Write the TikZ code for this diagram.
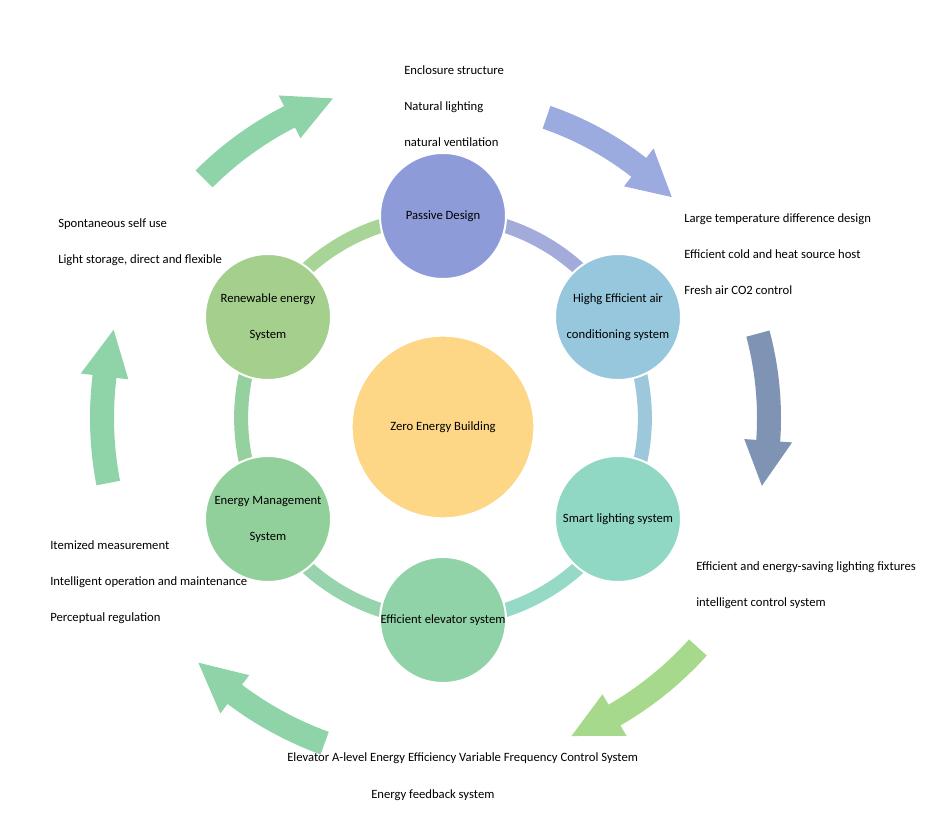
\documentclass[tikz,border=0pt]{standalone}
\usepackage{fontspec}
\setmainfont{Carlito}
\usetikzlibrary{backgrounds}

% colour, start angle, end angle, radius
\newcommand{\bendarrow}[4]{%
  \pgfmathsetmacro{\hb}{#3+8}
  \pgfmathsetmacro{\ri}{#4-12}
  \pgfmathsetmacro{\ro}{#4+12}
  \pgfmathsetmacro{\hi}{#4-24}
  \pgfmathsetmacro{\ho}{#4+24}
  \fill[#1] (#2:\ri) arc[start angle=#2, end angle=\hb, radius=\ri]
    -- (\hb:\hi) -- (#3:#4) -- (\hb:\ho) -- (\hb:\ro)
    arc[start angle=\hb, end angle=#2, radius=\ro] -- cycle;}

\begin{document}
\begin{tikzpicture}[x=0.75pt,y=0.75pt,
  part/.style={circle,minimum size=94.5pt,inner sep=0pt,draw=white,line width=1.5pt,
    align=center,font=\fontsize{9.5}{27}\selectfont},
  note/.style={anchor=base west,align=left,inner sep=0pt,font=\fontsize{9.5}{27}\selectfont},
  ring/.style={line width=10.5pt,looseness=0.91}]
\definecolor{passive}{HTML}{8E9BD9}
\definecolor{hvac}{HTML}{97C7DC}
\definecolor{lighting}{HTML}{90D7C4}
\definecolor{elevator}{HTML}{91D3A8}
\definecolor{manage}{HTML}{91D09A}
\definecolor{renew}{HTML}{A4CF8D}
\definecolor{zeb}{HTML}{FDD686}
\definecolor{ringa}{HTML}{A3ABDA}
\definecolor{ringb}{HTML}{9DC7DA}
\definecolor{ringc}{HTML}{95D9C6}
\definecolor{ringd}{HTML}{97D4AE}
\definecolor{ringe}{HTML}{94D19F}
\definecolor{ringf}{HTML}{A9D498}
\definecolor{arrowa}{HTML}{8FD4A9}
\definecolor{arrowb}{HTML}{9BAADF}
\definecolor{arrowc}{HTML}{7F93B5}
\definecolor{arrowd}{HTML}{A6D98C}
\definecolor{arrowe}{HTML}{8FD4A8}
\useasboundingbox (0,0) rectangle (943,825);

% outer arrows
\begin{scope}[shift={(443,407)}]
  \foreach \crlr/\abeg/\aend/\rad in {arrowa/135/109/338,arrowb/71/44/318,arrowc/15/-12/326,
      arrowd/-42/-68/343,arrowe/-110/-135/346,arrowe/191/165/341}
  {\bendarrow{\crlr}{\abeg}{\aend}{\rad}}
\end{scope}

% parts
\node[part,fill=passive] (pd) at (443,609) {Passive Design};
\node[part,fill=hvac] (hv) at (618,508) {Highg Efficient air\\conditioning system};
\node[part,fill=lighting] (sl) at (618,306) {Smart lighting system};
\node[part,fill=elevator] (ev) at (443,205) {Efficient elevator system};
\node[part,fill=manage] (em) at (268,306) {Energy Management\\System};
\node[part,fill=renew] (re) at (268,508) {Renewable energy\\System};
\node[part,fill=zeb,minimum size=137pt] (zeb) at (443,398) {Zero Energy Building};

\begin{pgfonlayer}{background}
  \foreach \a/\b/\crlr in {pd/hv/ringa,hv/sl/ringb,sl/ev/ringc,ev/em/ringd,em/re/ringe,re/pd/ringf}
  {\draw[ring,\crlr] (\a.center) to[bend left=30] (\b.center);}
\end{pgfonlayer}

% notes (anchored at the last line)
\node[note] (pdnote) at (404,678) {Enclosure structure\\Natural lighting\\natural ventilation};
\node[note] (hvnote) at (684,530) {Large temperature difference design\\Efficient cold and heat source host\\Fresh air CO2 control};
\node[note] (slnote) at (696,218) {Efficient and energy-saving lighting fixtures\\intelligent control system};
\node[note] (evnotea) at (287,63) {Elevator A-level Energy Efficiency Variable Frequency Control System};
\node[note] (evnoteb) at (371,26) {Energy feedback system};
\node[note] (emnote) at (50,203) {Itemized measurement\\Intelligent operation and maintenance\\Perceptual regulation};
\node[note] (renote) at (58,561) {Spontaneous self use\\Light storage, direct and flexible};
\end{tikzpicture}
\end{document}
